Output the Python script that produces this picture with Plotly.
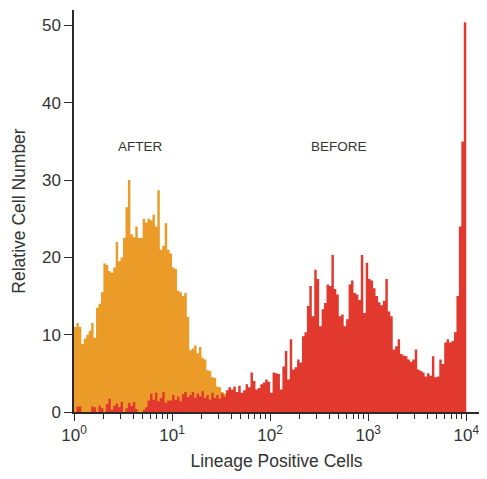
import plotly.graph_objects as go

# Histogram bin layout: 160 bins of 0.025 decade between 10^0 and 10^4
bin_step_decades = 0.025
n_bins = 160

after_counts = [
    11, 11.5, 11, 8.8, 9.5, 10, 10.5, 11.5, 9.6, 13.5,
    14, 15.5, 19.2, 19, 18.2, 18, 18.7, 22, 19.5, 20,
    22.5, 26.5, 30, 23, 22.6, 24, 22.5, 22.5, 25, 24.5,
    25, 24.8, 25.5, 24, 28.7, 21, 21.5, 24.4, 21, 20.5,
    18.7, 18.5, 15.7, 15.5, 15, 15.4, 12.3, 8, 8.2, 8.6,
    7.6, 8.4, 7, 6.8, 5.4, 5.3, 4.5, 4.4, 3.3, 3.2,
    2.6, 2.4, 1.5, 0.8,
] + [0] * 96

before_counts = [
    0, 0.7, 0.7, 0, 0, 0, 0, 0.7, 0.6, 0,
    0.8, 0.5, 0, 1.0, 1.7, 0.3, 0.8, 1.1, 0.6, 1.3,
    0, 0.5, 1.2, 0.8, 1.3, 0.4, 0, 0, 0.3, 0.6,
    1.5, 2.4, 1.6, 2.5, 1.4, 1.8, 2.6, 1.2, 1.5, 1.5,
    2.2, 1.6, 2.0, 1.4, 2.3, 2.6, 1.9, 2.2, 2.6, 1.8,
    2.4, 2.0, 2.7, 1.8, 2.2, 1.6, 2.5, 1.8, 2.2, 1.7,
    2.4, 2.0, 2.8, 3.2, 2.9, 3.3, 2.6, 3.4, 2.5, 2.8,
    3.6, 3.2, 5.1, 4.0, 2.9, 3.1, 3.6, 3.8, 4.2, 3.9,
    2.5, 5.1, 5.0, 4.9, 2.9, 5.9, 7.9, 4.2, 9.4, 5.5,
    5.8, 6.8, 6.4, 9.8, 10.3, 13.7, 16.3, 12.4, 18.4, 17.2,
    11.1, 13.3, 14.1, 16.5, 16.3, 20.3, 15.9, 15.2, 12.4, 12.6,
    11.1, 12.0, 16.5, 17, 15.4, 15.2, 14.5, 20.3, 12.8, 19.3,
    17.2, 17.0, 16, 15, 14.2, 13.8, 14.4, 17.2, 13, 12.4,
    8.1, 8.5, 9.4, 7.5, 7.3, 7.2, 6.8, 6.5, 6.8, 8.1,
    5.5, 5.3, 5.1, 4.6, 5.0, 4.7, 7.2, 4.5, 4.6, 6.8,
    6.2, 9.0, 9.4, 9.0, 9.2, 10.3, 15, 24, 35, 50.4,
]

y_tick_values = [0, 10, 20, 30, 40, 50]
x_tick_values = [1, 10, 100, 1000, 10000]
x_tick_labels = ["10<sup>0</sup>", "10<sup>1</sup>", "10<sup>2</sup>", "10<sup>3</sup>", "10<sup>4</sup>"]
x_minor_values = [m * 10 ** k for k in range(4) for m in range(2, 10)]

series_labels = ["AFTER", "BEFORE"]
label_x_log10 = [0.675, 2.7]   # log axes take annotation positions in log10 units
label_y = 34.4

edges = [10 ** (bin_step_decades * i) for i in range(n_bins + 1)]

ORANGE = "#EB9B27"
RED = "#E1392D"
AXIS = "#2b2b2b"
TEXT = "#333333"
FONT = "Liberation Sans"

fig = go.Figure()
for counts, color in [(after_counts, ORANGE), (before_counts, RED)]:
    fig.add_trace(go.Scatter(
        x=edges,
        y=list(counts) + [counts[-1]],
        mode="lines",
        line=dict(shape="hv", width=0, color=color),
        fill="tozeroy",
        fillcolor=color,
        hoverinfo="skip",
        showlegend=False,
    ))

for text, xpos in zip(series_labels, label_x_log10):
    fig.add_annotation(
        x=xpos, y=label_y, xref="x", yref="y",
        text=text, showarrow=False,
        font=dict(family=FONT, size=13.5, color=TEXT),
    )

# page body has an 8px margin: offset the figure so it lands in the 487x479 window
fig.update_layout(
    width=479, height=463,
    margin=dict(l=66, r=8, t=2, b=59),
    paper_bgcolor="white", plot_bgcolor="white",
    font=dict(family=FONT, color=TEXT),
)

fig.update_xaxes(
    type="log", range=[0, 4.13], automargin=False,
    showline=True, linecolor=AXIS, linewidth=1.5,
    ticks="outside", ticklen=7, tickwidth=1.2, tickcolor=AXIS,
    tickvals=x_tick_values, ticktext=x_tick_labels,
    tickfont=dict(family=FONT, size=17, color=TEXT),
    minor=dict(tickvals=x_minor_values, ticks="outside", ticklen=5, tickwidth=1, tickcolor=AXIS),
    showgrid=False, zeroline=False,
    title=dict(text="Lineage Positive Cells", font=dict(family=FONT, size=17.5, color=TEXT), standoff=12),
)
fig.update_yaxes(
    range=[0, 52], automargin=False,
    showline=True, linecolor=AXIS, linewidth=1.5,
    ticks="outside", ticklen=8, tickwidth=1.2, tickcolor=AXIS,
    tickvals=y_tick_values,
    tickfont=dict(family=FONT, size=17, color=TEXT),
    showgrid=False, zeroline=False,
    title=dict(text="Relative Cell Number", font=dict(family=FONT, size=17.5, color=TEXT), standoff=12),
)

fig.write_html("out.html")
